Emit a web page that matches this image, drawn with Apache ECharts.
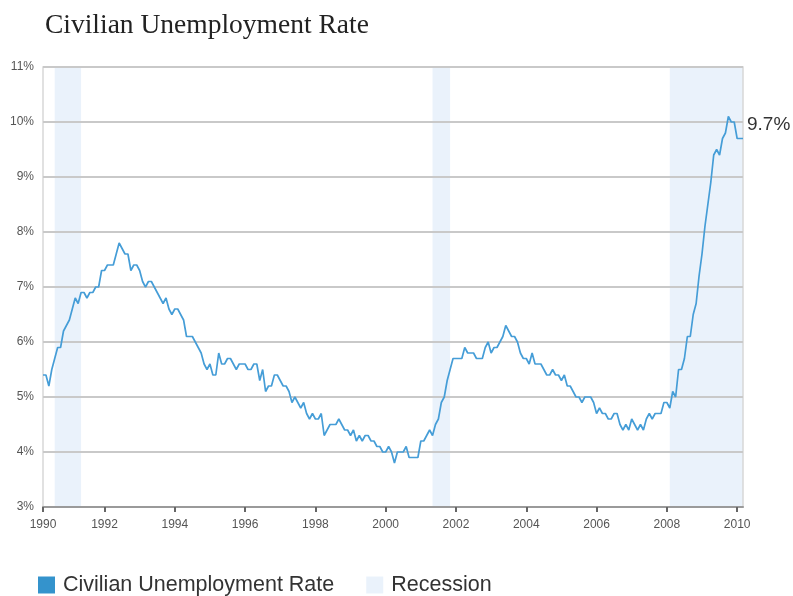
<!DOCTYPE html>
<html>
<head>
<meta charset="utf-8">
<title>Civilian Unemployment Rate</title>
<script src="https://cdn.jsdelivr.net/npm/echarts@6/dist/echarts.min.js"></script>
<style>
  html, body { margin: 0; padding: 0; background: #fff; }
  #chart { width: 793px; height: 596px; }
</style>
</head>
<body>
<div id="chart"></div>
<script>
// Monthly civilian unemployment rate (%), April 1990 through March 2010
const firstYear = 1990;
const firstMonth = 4;
const rate1990 = [5.4, 5.4, 5.2, 5.5, 5.7, 5.9, 5.9, 6.2, 6.3];
const rate1991 = [6.4, 6.6, 6.8, 6.7, 6.9, 6.9, 6.8, 6.9, 6.9, 7.0, 7.0, 7.3];
const rate1992 = [7.3, 7.4, 7.4, 7.4, 7.6, 7.8, 7.7, 7.6, 7.6, 7.3, 7.4, 7.4];
const rate1993 = [7.3, 7.1, 7.0, 7.1, 7.1, 7.0, 6.9, 6.8, 6.7, 6.8, 6.6, 6.5];
const rate1994 = [6.6, 6.6, 6.5, 6.4, 6.1, 6.1, 6.1, 6.0, 5.9, 5.8, 5.6, 5.5];
const rate1995 = [5.6, 5.4, 5.4, 5.8, 5.6, 5.6, 5.7, 5.7, 5.6, 5.5, 5.6, 5.6];
const rate1996 = [5.6, 5.5, 5.5, 5.6, 5.6, 5.3, 5.5, 5.1, 5.2, 5.2, 5.4, 5.4];
const rate1997 = [5.3, 5.2, 5.2, 5.1, 4.9, 5.0, 4.9, 4.8, 4.9, 4.7, 4.6, 4.7];
const rate1998 = [4.6, 4.6, 4.7, 4.3, 4.4, 4.5, 4.5, 4.5, 4.6, 4.5, 4.4, 4.4];
const rate1999 = [4.3, 4.4, 4.2, 4.3, 4.2, 4.3, 4.3, 4.2, 4.2, 4.1, 4.1, 4.0];
const rate2000 = [4.0, 4.1, 4.0, 3.8, 4.0, 4.0, 4.0, 4.1, 3.9, 3.9, 3.9, 3.9];
const rate2001 = [4.2, 4.2, 4.3, 4.4, 4.3, 4.5, 4.6, 4.9, 5.0, 5.3, 5.5, 5.7];
const rate2002 = [5.7, 5.7, 5.7, 5.9, 5.8, 5.8, 5.8, 5.7, 5.7, 5.7, 5.9, 6.0];
const rate2003 = [5.8, 5.9, 5.9, 6.0, 6.1, 6.3, 6.2, 6.1, 6.1, 6.0, 5.8, 5.7];
const rate2004 = [5.7, 5.6, 5.8, 5.6, 5.6, 5.6, 5.5, 5.4, 5.4, 5.5, 5.4, 5.4];
const rate2005 = [5.3, 5.4, 5.2, 5.2, 5.1, 5.0, 5.0, 4.9, 5.0, 5.0, 5.0, 4.9];
const rate2006 = [4.7, 4.8, 4.7, 4.7, 4.6, 4.6, 4.7, 4.7, 4.5, 4.4, 4.5, 4.4];
const rate2007 = [4.6, 4.5, 4.4, 4.5, 4.4, 4.6, 4.7, 4.6, 4.7, 4.7, 4.7, 4.9];
const rate2008 = [4.9, 4.8, 5.1, 5.0, 5.5, 5.5, 5.7, 6.1, 6.1, 6.5, 6.7, 7.2];
const rate2009 = [7.6, 8.1, 8.5, 8.9, 9.4, 9.5, 9.4, 9.7, 9.8, 10.1, 10.0, 10.0];
const rate2010 = [9.7, 9.7, 9.7];

// Recession periods, as [first month, last month]
const recessions = [
  ['1990-08', '1991-05'],
  ['2001-05', '2001-11'],
  ['2008-02', '2010-03']
];

const yTicks = { min: 3, max: 11, step: 1 };

const rates = [].concat(
  rate1990, rate1991, rate1992, rate1993, rate1994, rate1995, rate1996,
  rate1997, rate1998, rate1999, rate2000, rate2001, rate2002, rate2003,
  rate2004, rate2005, rate2006, rate2007, rate2008, rate2009, rate2010
);

// Month labels "YYYY-MM", one per value
const months = rates.map(function (_, i) {
  const m = firstMonth - 1 + i;
  const y = firstYear + Math.floor(m / 12);
  const mm = (m % 12) + 1;
  return y + '-' + (mm < 10 ? '0' : '') + mm;
});

// Show a tick at the first month and every other January
function isYearMark(index, value) {
  if (index === 0) return true;
  const parts = value.split('-');
  return parts[1] === '01' && Number(parts[0]) % 2 === 0;
}

const lineColor = '#459dd7';
const shadeColor = '#eaf2fb';
const sans = 'Liberation Sans, Arial, sans-serif';

const chart = echarts.init(document.getElementById('chart'), null, { renderer: 'canvas' });

chart.setOption({
  animation: false,
  backgroundColor: '#fff',
  title: {
    text: 'Civilian Unemployment Rate',
    left: 40,
    top: 7,
    textStyle: {
      fontFamily: 'Liberation Serif, Times New Roman, serif',
      fontSize: 27.5,
      fontWeight: 'normal',
      color: '#222'
    }
  },
  legend: {
    left: 33,
    top: 569,
    icon: 'rect',
    itemWidth: 17,
    itemHeight: 17,
    itemGap: 32,
    textStyle: {
      fontFamily: sans,
      fontSize: 21.5,
      color: '#333',
      padding: [0, 0, 0, 3]
    },
    data: [
      { name: 'Civilian Unemployment Rate', itemStyle: { color: '#3493cc' } },
      { name: 'Recession', itemStyle: { color: shadeColor } }
    ]
  },
  grid: {
    left: 43,
    right: 50,
    top: 67,
    bottom: 89,
    show: true,
    borderColor: '#d8d8d8',
    borderWidth: 1.5
  },
  xAxis: {
    type: 'category',
    data: months,
    boundaryGap: false,
    axisLine: { show: true, lineStyle: { color: '#9a9a9a', width: 2 } },
    axisTick: {
      show: true,
      interval: isYearMark,
      length: 5,
      lineStyle: { color: '#666', width: 2 }
    },
    axisLabel: {
      interval: isYearMark,
      margin: 12,
      fontFamily: sans,
      fontSize: 12,
      color: '#555',
      formatter: function (v) { return v.split('-')[0]; }
    },
    splitLine: { show: false }
  },
  yAxis: {
    type: 'value',
    min: yTicks.min,
    max: yTicks.max,
    interval: yTicks.step,
    axisLine: { show: false },
    axisTick: { show: false },
    axisLabel: {
      margin: 9,
      fontFamily: sans,
      fontSize: 12,
      color: '#555',
      formatter: '{value}%'
    },
    splitLine: { show: true, lineStyle: { color: '#c9c9c9', width: 2 } }
  },
  series: [
    {
      name: 'Recession',
      type: 'line',
      data: [],
      itemStyle: { color: shadeColor },
      lineStyle: { color: shadeColor },
      z: -1,
      markArea: {
        silent: true,
        z: -1,
        itemStyle: { color: shadeColor },
        data: recessions.map(function (r) {
          return [{ xAxis: r[0] }, { xAxis: r[1] }];
        })
      }
    },
    {
      name: 'Civilian Unemployment Rate',
      type: 'line',
      data: rates,
      showSymbol: false,
      symbol: 'none',
      z: 3,
      itemStyle: { color: lineColor },
      lineStyle: { color: lineColor, width: 1.7 },
      endLabel: {
        show: true,
        formatter: function (p) { return p.value + '%'; },
        distance: 4,
        offset: [0, -14],
        fontFamily: sans,
        fontSize: 19,
        color: '#333'
      }
    }
  ]
});
</script>
</body>
</html>
